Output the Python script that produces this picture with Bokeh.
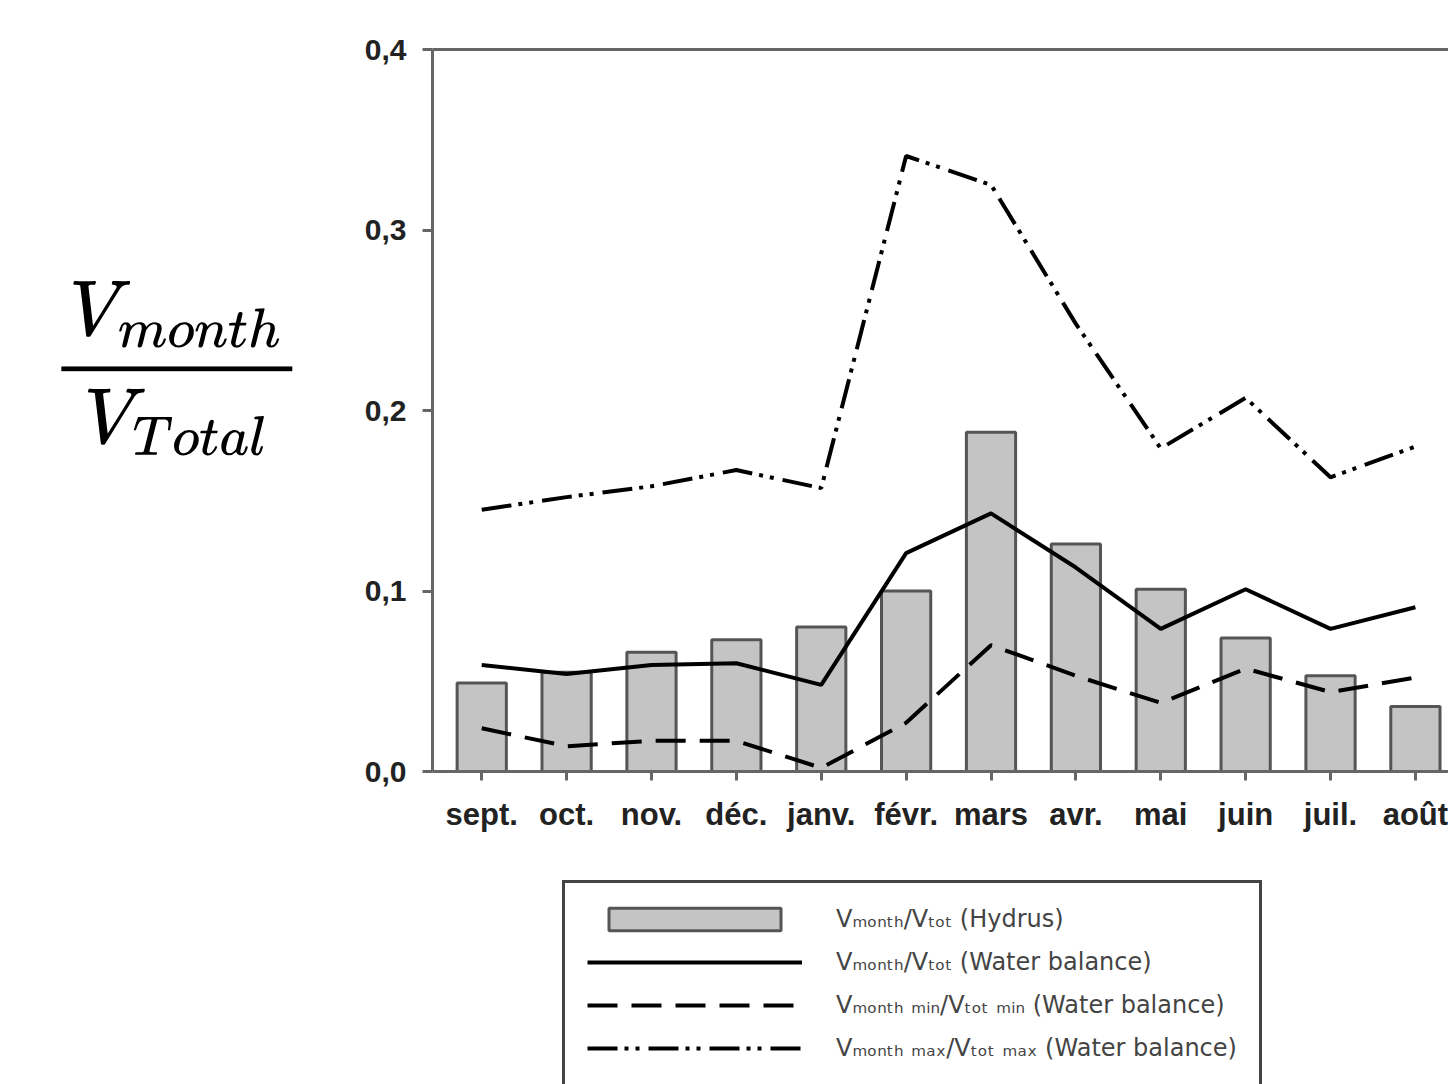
from bokeh.plotting import figure
from bokeh.layouts import column
from bokeh.models import (FixedTicker, CustomJSTickFormatter, LinearAxis, Legend,
                          LegendItem, Range1d, TeX)
from bokeh.embed import file_html
from bokeh.resources import INLINE

# ---- data ----
months = ["sept.", "oct.", "nov.", "déc.", "janv.", "févr.", "mars", "avr.", "mai", "juin", "juil.", "août"]
hydrus = [0.049, 0.055, 0.066, 0.073, 0.080, 0.100, 0.188, 0.126, 0.101, 0.074, 0.053, 0.036]
water_balance = [0.059, 0.054, 0.059, 0.060, 0.048, 0.121, 0.143, 0.113, 0.079, 0.101, 0.079, 0.091]
water_balance_min = [0.024, 0.014, 0.017, 0.017, 0.002, 0.027, 0.070, 0.053, 0.038, 0.057, 0.044, 0.052]
water_balance_max = [0.145, 0.152, 0.158, 0.167, 0.157, 0.341, 0.325, 0.248, 0.179, 0.207, 0.163, 0.180]
y_ticks = [0.0, 0.1, 0.2, 0.3, 0.4]
legend_labels = [
    "Vₘₒₙₜₕ/Vₜₒₜ (Hydrus)",
    "Vₘₒₙₜₕ/Vₜₒₜ (Water balance)",
    "Vₘₒₙₜₕ ₘᵢₙ/Vₜₒₜ ₘᵢₙ (Water balance)",
    "Vₘₒₙₜₕ ₘₐₓ/Vₜₒₜ ₘₐₓ (Water balance)",
]

xs = list(range(len(months)))

AX = "#666666"
BAR = dict(fill_color="#c4c4c4", line_color="#555555", line_width=3)
SOLID = dict(line_color="black", line_width=4)
DASH = dict(line_color="black", line_width=4, line_dash="30 14")
DASHDOT = dict(line_color="black", line_width=4, line_dash="30 7 4 7 4 9")

W = 1448
p = figure(width=W, height=880, output_backend="svg", toolbar_location=None,
           x_range=Range1d(-0.58, 11.39), y_range=Range1d(0, 0.4),
           min_border_left=432, min_border_top=49, min_border_bottom=109,
           min_border_right=0)
p.outline_line_color = None
p.xgrid.visible = False
p.ygrid.visible = False

p.vbar(x=xs, top=hydrus, width=0.58, **BAR)
p.line(xs, water_balance, **SOLID)
p.line(xs, water_balance_min, **DASH)
p.line(xs, water_balance_max, **DASHDOT)

# x axis
xa = p.xaxis[0]
xa.ticker = FixedTicker(ticks=xs)
xa.major_label_overrides = {i: m for i, m in zip(xs, months)}
xa.axis_line_width = 3
xa.axis_line_color = AX
xa.major_tick_line_color = AX
xa.major_tick_line_width = 3
xa.major_tick_out = 9
xa.major_tick_in = 0
xa.minor_tick_line_color = None
xa.major_label_standoff = 16
xa.major_label_text_font = "Liberation Sans"
xa.major_label_text_font_style = "bold"
xa.major_label_text_font_size = "31px"
xa.major_label_text_color = "#222222"

# y axis
ya = p.yaxis[0]
ya.ticker = FixedTicker(ticks=y_ticks)
ya.formatter = CustomJSTickFormatter(code="return tick.toFixed(1).replace('.', ',');")
ya.axis_line_width = 3
ya.axis_line_color = AX
ya.major_tick_line_color = AX
ya.major_tick_line_width = 3
ya.major_tick_out = 10
ya.major_tick_in = 0
ya.minor_tick_line_color = None
ya.major_label_standoff = 16
ya.major_label_text_font = "Liberation Sans"
ya.major_label_text_font_style = "bold"
ya.major_label_text_font_size = "30px"
ya.major_label_text_color = "#222222"
ya.axis_label = TeX(text=r"\frac{V_{month}}{V_{Total}}\vphantom{\frac{V_{month}}{\frac{V_{Total}}{\frac{V_{Total}}{V_{Total}}}}}")
ya.axis_label_orientation = "horizontal"
ya.axis_label_standoff = 60
ya.axis_label_text_font_size = "67px"
ya.axis_label_text_color = "black"

# top border line
top = LinearAxis(ticker=FixedTicker(ticks=[]), major_label_text_font_size="0px",
                 axis_line_width=3, axis_line_color=AX,
                 major_tick_line_color=None, minor_tick_line_color=None)
p.add_layout(top, "above")

# ---- legend strip below the chart (proxy renderers hidden behind the legend box) ----
q = figure(width=W, height=204, output_backend="svg", toolbar_location=None,
           x_range=Range1d(-4.4, 18.0), y_range=Range1d(-0.5, 0.5),
           x_axis_location=None, y_axis_location=None,
           min_border_left=432, min_border_top=0, min_border_bottom=0,
           min_border_right=0)
q.outline_line_color = None
q.xgrid.visible = False
q.ygrid.visible = False
r0 = q.vbar(x=xs, top=hydrus, width=0.58, **BAR)
r1 = q.line(xs, water_balance, **SOLID)
r2 = q.line(xs, water_balance_min, **DASH)
r3 = q.line(xs, water_balance_max, **DASHDOT)

legend = Legend(items=[
    LegendItem(label=legend_labels[0], renderers=[r0]),
    LegendItem(label=legend_labels[1], renderers=[r1]),
    LegendItem(label=legend_labels[2], renderers=[r2]),
    LegendItem(label=legend_labels[3], renderers=[r3]),
], location=(130, -3), margin=0, glyph_width=215, glyph_height=28,
    label_standoff=34, spacing=15, padding=22,
    label_text_font="DejaVu Sans", label_text_font_size="24px",
    label_text_color="#444444", border_line_color="#444444", border_line_alpha=1.0,
    border_line_width=3, background_fill_color="white", background_fill_alpha=1.0)
q.add_layout(legend, "center")

open("out.html", "w").write(file_html(column(p, q, spacing=0), INLINE))
